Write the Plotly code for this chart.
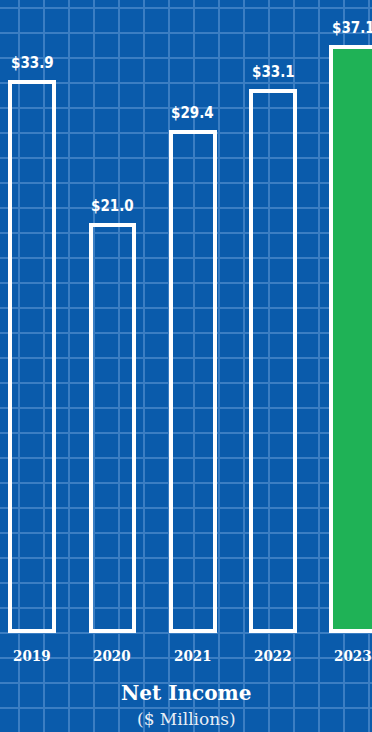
import plotly.graph_objects as go

# ---- data ----
years = ["2019", "2020", "2021", "2022", "2023"]
net_income = [33.9, 21.0, 29.4, 33.1, 37.1]
value_labels = ["$33.9", "$21.0", "$29.4", "$33.1", "$37.1"]
title_text = "Net Income"
subtitle_text = "($ Millions)"

# ---- style ----
BG = "#0a5bab"
GRID = "#3b7ec3"
GREEN = "#1fb256"
BASE = -15.6
fills = ["rgba(0,0,0,0)"] * 4 + [GREEN]

fig = go.Figure()

fig.add_trace(go.Bar(
    x=years,
    y=[v - BASE for v in net_income],
    base=BASE,
    width=0.546,
    marker=dict(color=fills, line=dict(color="white", width=4)),
    hoverinfo="skip",
    showlegend=False,
))

# invisible trace to host the grid axes
fig.add_trace(go.Scatter(x=[None], y=[None], xaxis="x2", yaxis="y2",
                         showlegend=False, hoverinfo="skip"))

annotations = []
for i, (yr, v, lab) in enumerate(zip(years, net_income, value_labels)):
    annotations.append(dict(
        x=i, y=v, xref="x", yref="y", text=lab, showarrow=False,
        yanchor="bottom", yshift=8,
        font=dict(family="DejaVu Sans Condensed", size=15, color="white", weight="bold"),
    ))
    annotations.append(dict(
        x=i, y=0.1045, xref="x", yref="paper", text=yr, showarrow=False,
        yanchor="middle",
        font=dict(family="DejaVu Serif Condensed", size=15, color="white", weight="bold"),
    ))

annotations.append(dict(
    x=0.5, y=0.053, xref="paper", yref="paper", text=title_text, showarrow=False,
    yanchor="middle",
    font=dict(family="DejaVu Serif", size=20, color="white", weight="bold"),
))
annotations.append(dict(
    x=0.5, y=0.0175, xref="paper", yref="paper", text=subtitle_text, showarrow=False,
    yanchor="middle",
    font=dict(family="DejaVu Serif", size=17, color="#e8eef6"),
))

fig.update_layout(
    width=372, height=732,
    margin=dict(l=0, r=0, t=0, b=0),
    paper_bgcolor=BG, plot_bgcolor=BG,
    xaxis=dict(type="category", range=[-0.401, 4.232], showgrid=False,
               showticklabels=False, zeroline=False, fixedrange=True),
    yaxis=dict(range=[-24.73, 41.34], showgrid=False, showticklabels=False,
               zeroline=False, fixedrange=True),
    xaxis2=dict(overlaying="x", range=[0, 372], tick0=19, dtick=25,
                showgrid=True, gridcolor=GRID, gridwidth=2,
                showticklabels=False, zeroline=False, anchor="y2"),
    yaxis2=dict(overlaying="y", range=[732, 0], tick0=8, dtick=25,
                showgrid=True, gridcolor=GRID, gridwidth=2,
                showticklabels=False, zeroline=False, anchor="x2"),
    annotations=annotations,
    bargap=0,
)

fig.write_html("out.html", config={"displayModeBar": False})
